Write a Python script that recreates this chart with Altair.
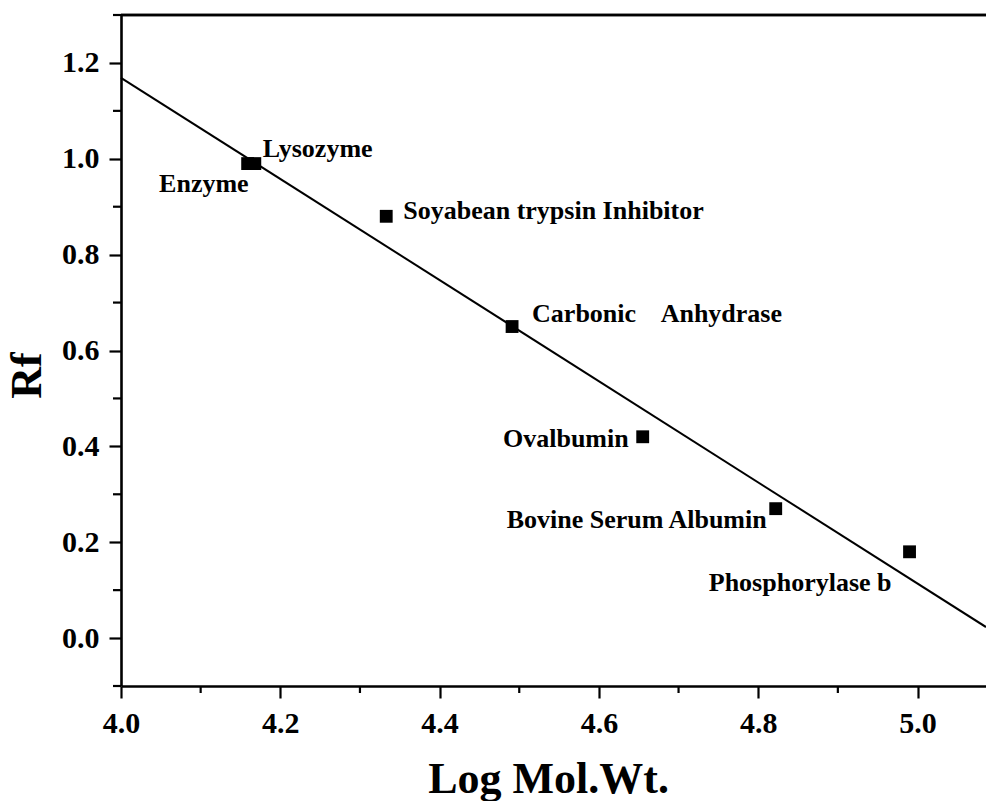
import altair as alt
import pandas as pd

# ---- data ----
proteins = ["Enzyme", "Lysozyme", "Soyabean trypsin Inhibitor",
            "Carbonic\u00a0\u00a0\u00a0 Anhydrase", "Ovalbumin",
            "Bovine Serum Albumin", "Phosphorylase b"]
log_mw = [4.159, 4.168, 4.333, 4.491, 4.655, 4.822, 4.990]
rf = [0.99, 0.99, 0.88, 0.65, 0.42, 0.27, 0.18]

fit_x = [4.0, 5.086]
fit_y = [1.169, 0.023]

x_major = [4.0, 4.2, 4.4, 4.6, 4.8, 5.0]
x_minor = [4.1, 4.3, 4.5, 4.7, 4.9]
y_major = [0.0, 0.2, 0.4, 0.6, 0.8, 1.0, 1.2]
y_minor = [-0.1, 0.1, 0.3, 0.5, 0.7, 0.9, 1.1, 1.3]

X_DOMAIN = [4.0, 5.086]
Y_DOMAIN = [-0.1, 1.3]

FONT = "Liberation Serif"
W, H = 865, 671

pts = pd.DataFrame({"x": log_mw, "y": rf, "name": proteins})
fit = pd.DataFrame({"x": fit_x, "y": fit_y})
xminor = pd.DataFrame({"x": x_minor})
yminor = pd.DataFrame({"y": y_minor})

xscale = alt.Scale(domain=X_DOMAIN, nice=False, zero=False)
yscale = alt.Scale(domain=Y_DOMAIN, nice=False, zero=False)

x_axis = alt.Axis(values=x_major, format=".1f", grid=False, tickSize=12, tickWidth=2.2,
                  domainWidth=2.6, domainColor="black", tickColor="black", labelFlush=False,
                  labelFont=FONT, labelFontWeight="bold", labelFontSize=30, labelColor="black",
                  labelPadding=10, title="Log Mol.Wt.", titleFont=FONT, titleFontWeight="bold",
                  titleFontSize=44, titleColor="black", titleX=427, titleY=106,
                  titleBaseline="alphabetic", titleAlign="center")
y_axis = alt.Axis(values=y_major, format=".1f", grid=False, tickSize=12, tickWidth=2.2,
                  domainWidth=2.6, domainColor="black", tickColor="black", labelFlush=False,
                  labelFont=FONT, labelFontWeight="bold", labelFontSize=30, labelColor="black",
                  labelPadding=10, title="Rf", titleFont=FONT, titleFontWeight="bold",
                  titleFontSize=44, titleColor="black", titleAngle=270, titleX=-81, titleY=360,
                  titleBaseline="alphabetic", titleAlign="center")

line = alt.Chart(fit).mark_line(color="black", strokeWidth=2).encode(
    x=alt.X("x:Q", scale=xscale, axis=x_axis),
    y=alt.Y("y:Q", scale=yscale, axis=y_axis),
)

points = alt.Chart(pts).mark_point(shape="square", filled=True, opacity=1, color="black", size=165).encode(
    x="x:Q", y="y:Q"
)

xminor_ticks = alt.Chart(xminor).mark_rule(color="black", strokeWidth=2.2).encode(
    x="x:Q", y=alt.value(H), y2=alt.value(H + 7)
)
yminor_ticks = alt.Chart(yminor).mark_rule(color="black", strokeWidth=2.2).encode(
    y="y:Q", x=alt.value(0), x2=alt.value(-8)
)
top_border = alt.Chart(fit).mark_rule(color="black", strokeWidth=2.6).encode(
    x=alt.value(0), x2=alt.value(W), y=alt.value(0)
)

# label placement (pixel offsets from each point)
label_style = {
    "Enzyme": ("right", 1, 20),
    "Lysozyme": ("left", 8, -15),
    "Soyabean trypsin Inhibitor": ("left", 17, -5),
    "Carbonic\u00a0\u00a0\u00a0 Anhydrase": ("left", 20, -13),
    "Ovalbumin": ("right", -14, 2),
    "Bovine Serum Albumin": ("right", -9, 11),
    "Phosphorylase b": ("right", -18, 31),
}
label_layers = []
for name in proteins:
    align, dx, dy = label_style[name]
    label_layers.append(
        alt.Chart(pts[pts["name"] == name]).mark_text(
            align=align, baseline="middle", dx=dx, dy=dy, font=FONT, fontWeight="bold",
            fontSize=26, color="black"
        ).encode(x="x:Q", y="y:Q", text="name:N")
    )

chart = alt.layer(line, xminor_ticks, yminor_ticks, top_border, points, *label_layers).properties(
    width=W, height=H,
    autosize=alt.AutoSizeParams(type="none"),
    padding={"left": 121, "top": 15, "right": 0, "bottom": 115},
    background="white",
).configure_view(stroke=None)

chart.save("out.html", embed_options={"renderer": "svg", "actions": False})
